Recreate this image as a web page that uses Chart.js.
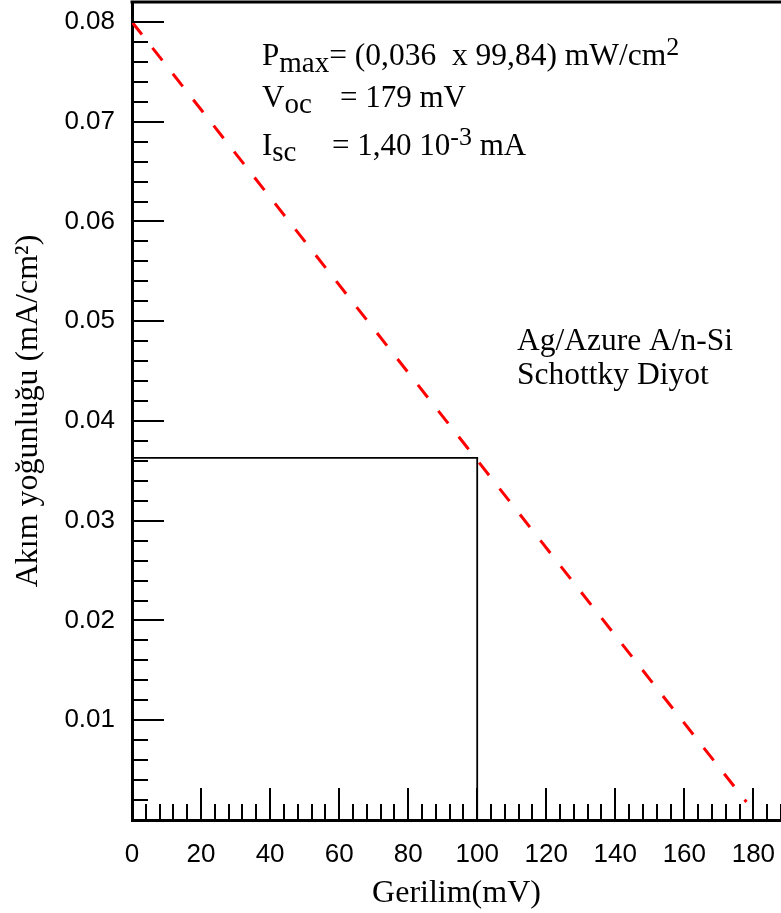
<!DOCTYPE html>
<html>
<head>
<meta charset="utf-8">
<script src="https://cdn.jsdelivr.net/npm/chart.js@4/dist/chart.umd.min.js"></script>
<style>
  html, body { margin: 0; padding: 0; background: #fff; }
  #wrap { width: 781px; height: 913px; position: relative; }
</style>
</head>
<body>
<div id="wrap"><canvas id="ivchart"></canvas></div>
<script>
// load line (red dashed) and max power rectangle
var lineV = [0, 178];
var lineJ = [0.0800, 0.0018];
var rectV = [0, 100, 100];
var rectJ = [0.0363, 0.0363, 0];

var xMin = 0, xMax = 188, xStep = 20, xMinor = 4;
var yMin = 0, yMax = 0.082, yStep = 0.01, yMinor = 0.002;

var serif = '"Liberation Serif", "Times New Roman", serif';
var sans = '"Liberation Sans", Arial, sans-serif';

function pts(xs, ys) {
    return xs.map(function (v, i) { return { x: v, y: ys[i] }; });
}

// draws a line of text made of runs: [text, size, dy, x?]
function richText(ctx, x, y, runs) {
    var cx = x;
    runs.forEach(function (r) {
        if (r[3] !== undefined) cx = x + r[3];
        ctx.font = r[1] + 'px ' + serif;
        ctx.fillText(r[0], cx, y + r[2]);
        cx += ctx.measureText(r[0]).width;
    });
}

var frame = {
    id: 'frame',
    afterDatasetsDraw: function (chart) {
        var ctx = chart.ctx, a = chart.chartArea;
        var xs = chart.scales.x, ys = chart.scales.y;
        ctx.save();
        ctx.strokeStyle = '#000';
        ctx.lineWidth = 2;
        // inward ticks on the bottom axis
        for (var v = xMin + xMinor; v <= xMax; v += xMinor) {
            var px = Math.round(xs.getPixelForValue(v));
            var len = (v % xStep === 0) ? 32 : 16;
            ctx.beginPath();
            ctx.moveTo(px, a.bottom);
            ctx.lineTo(px, a.bottom - len);
            ctx.stroke();
        }
        // inward ticks on the left axis
        for (var i = 1; i * yMinor <= yMax + 1e-9; i++) {
            var py = Math.round(ys.getPixelForValue(i * yMinor));
            var l2 = (i % 5 === 0) ? 32 : 16;
            ctx.beginPath();
            ctx.moveTo(a.left, py);
            ctx.lineTo(a.left + l2, py);
            ctx.stroke();
        }
        // top frame line
        ctx.lineWidth = 3;
        ctx.beginPath();
        ctx.moveTo(a.left - 1.5, a.top);
        ctx.lineTo(a.right, a.top);
        ctx.stroke();

        // annotations
        ctx.fillStyle = '#000';
        ctx.textBaseline = 'alphabetic';
        ctx.textAlign = 'left';
        var tx = a.left + 130;
        richText(ctx, tx, 65, [['P', 31, 0], ['max', 29, 7], ['= (0,036  x 99,84) mW/cm', 31.5, 0], ['2', 26, -10]]);
        richText(ctx, tx, 107, [['V', 31, 0], ['oc', 29, 6], ['= 179 mV', 31, 0, 78]]);
        richText(ctx, tx, 155, [['I', 31, 0], ['sc', 29, 6], ['= 1,40 10', 31, 0, 70], ['-3', 26, -10], [' mA', 31, 0]]);
        ctx.font = '31.5px ' + serif;
        ctx.fillText('Ag/Azure A/n-Si', a.left + 385, 350);
        ctx.fillText('Schottky Diyot', a.left + 385, 384);
        ctx.restore();
    }
};

var ctx = document.getElementById('ivchart').getContext('2d');
var ivchart = new Chart(ctx, {
    type: 'scatter',
    data: {
        datasets: [{
            data: pts(lineV, lineJ),
            showLine: true,
            borderColor: '#ff0000',
            borderWidth: 3,
            borderDash: [16, 17],
            pointRadius: 0
        }, {
            data: pts(rectV, rectJ),
            showLine: true,
            borderColor: '#000',
            borderWidth: 1.8,
            pointRadius: 0
        }]
    },
    options: {
        responsive: true,
        maintainAspectRatio: false,
        animation: false,
        layout: { padding: { top: 2, right: 0, left: 0, bottom: 0 } },
        plugins: { legend: { display: false }, tooltip: { enabled: false } },
        scales: {
            x: {
                type: 'linear',
                min: xMin,
                max: xMax,
                grid: { display: false, drawTicks: false },
                border: { display: true, color: '#000', width: 3 },
                ticks: {
                    stepSize: xStep,
                    includeBounds: false,
                    padding: 19,
                    color: '#000',
                    maxRotation: 0,
                    font: { family: sans, size: 26 }
                },
                title: {
                    display: true,
                    text: 'Gerilim(mV)',
                    color: '#000',
                    padding: { top: 5, bottom: 0 },
                    font: { family: serif, size: 32 }
                },
                afterFit: function (s) {
                    s.height = 93;
                    s.paddingLeft = 0;
                    s.paddingRight = 0;
                }
            },
            y: {
                type: 'linear',
                min: yMin,
                max: yMax,
                grid: { display: false, drawTicks: false },
                border: { display: true, color: '#000', width: 3 },
                ticks: {
                    stepSize: yStep,
                    includeBounds: false,
                    padding: 17,
                    color: '#000',
                    font: { family: sans, size: 26 },
                    callback: function (v) {
                        return v === 0 ? '' : v.toFixed(2);
                    }
                },
                title: {
                    display: true,
                    text: 'Akım yoğunluğu (mA/cm²)',
                    color: '#000',
                    padding: { top: 9, bottom: 0 },
                    font: { family: serif, size: 32 }
                },
                afterFit: function (s) {
                    s.width = 132;
                    s.paddingTop = 0;
                    s.paddingBottom = 0;
                }
            }
        }
    },
    plugins: [frame]
});
</script>
</body>
</html>
